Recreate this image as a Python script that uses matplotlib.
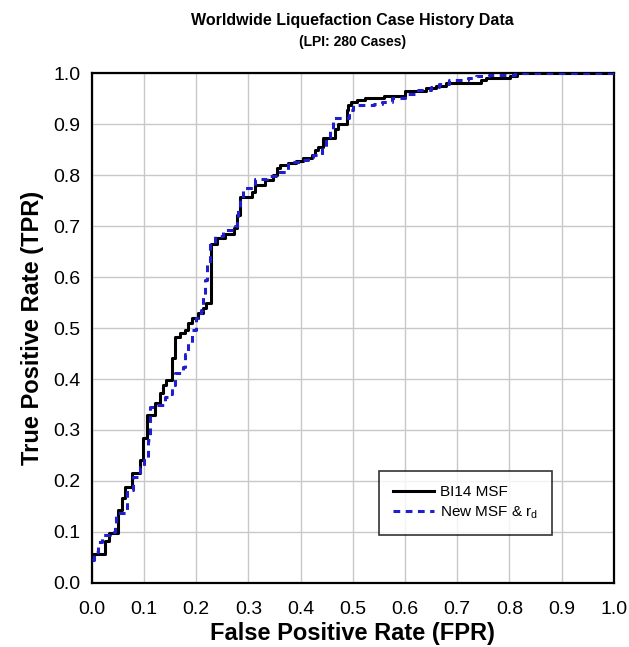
import matplotlib
matplotlib.use("Agg")
import matplotlib.pyplot as plt

plt.rcParams['font.family'] = ['Liberation Sans', 'DejaVu Sans']

# ROC step vertices: at each FPR the curve rises to the listed TPR
fpr_bi14 = [0.000, 0.003, 0.025, 0.033, 0.050, 0.057, 0.063, 0.076, 0.092, 0.098,
            0.106, 0.121, 0.130, 0.137, 0.143, 0.153, 0.159, 0.169, 0.178, 0.185,
            0.191, 0.204, 0.213, 0.218, 0.229, 0.239, 0.255, 0.272, 0.278, 0.284,
            0.306, 0.312, 0.331, 0.347, 0.354, 0.360, 0.376, 0.392, 0.405, 0.421,
            0.427, 0.434, 0.443, 0.466, 0.472, 0.488, 0.491, 0.497, 0.507, 0.523,
            0.560, 0.600, 0.641, 0.660, 0.679, 0.745, 0.755, 0.801, 0.815, 1.000]
tpr_bi14 = [0.045, 0.056, 0.083, 0.098, 0.143, 0.166, 0.189, 0.216, 0.241, 0.284,
            0.329, 0.352, 0.372, 0.388, 0.398, 0.441, 0.483, 0.490, 0.496, 0.509,
            0.519, 0.529, 0.539, 0.550, 0.665, 0.676, 0.684, 0.696, 0.722, 0.757,
            0.767, 0.780, 0.790, 0.800, 0.813, 0.820, 0.824, 0.828, 0.833, 0.839,
            0.849, 0.855, 0.872, 0.891, 0.901, 0.927, 0.937, 0.944, 0.948, 0.951,
            0.955, 0.964, 0.970, 0.975, 0.981, 0.987, 0.990, 0.995, 1.000, 1.000]

fpr_new = [0.000, 0.005, 0.012, 0.020, 0.035, 0.044, 0.046, 0.066, 0.068, 0.079,
           0.092, 0.100, 0.108, 0.112, 0.125, 0.140, 0.150, 0.153, 0.159, 0.175,
           0.178, 0.185, 0.191, 0.200, 0.210, 0.212, 0.216, 0.221, 0.226, 0.236,
           0.252, 0.274, 0.278, 0.280, 0.284, 0.290, 0.312, 0.335, 0.355, 0.376,
           0.398, 0.415, 0.424, 0.440, 0.448, 0.456, 0.462, 0.492, 0.500, 0.540,
           0.555, 0.575, 0.600, 0.625, 0.650, 0.665, 0.685, 0.720, 0.735, 0.760,
           0.810, 1.000]
tpr_new = [0.045, 0.060, 0.080, 0.095, 0.100, 0.110, 0.137, 0.140, 0.182, 0.208,
           0.228, 0.245, 0.280, 0.346, 0.350, 0.365, 0.370, 0.388, 0.411, 0.424,
           0.450, 0.470, 0.496, 0.519, 0.535, 0.565, 0.594, 0.627, 0.666, 0.680,
           0.692, 0.700, 0.712, 0.731, 0.751, 0.774, 0.793, 0.798, 0.806, 0.826,
           0.829, 0.835, 0.839, 0.855, 0.875, 0.891, 0.911, 0.927, 0.937, 0.940,
           0.944, 0.952, 0.960, 0.966, 0.972, 0.979, 0.987, 0.990, 0.994, 0.996,
           1.000, 1.000]

ticks = [round(0.1 * i, 1) for i in range(11)]

fig = plt.figure(figsize=(6.29, 6.47), dpi=100)
ax = fig.add_axes([0.146, 0.099, 0.830, 0.788])

ax.plot(fpr_bi14, tpr_bi14, drawstyle='steps-post', color='black', lw=2.2,
        label='BI14 MSF', zorder=3)
ax.plot(fpr_new, tpr_new, drawstyle='steps-post', color='#1f1fcf', lw=2.2,
        dashes=(2.2, 1.8), label='New MSF & r$_\\mathregular{d}$', zorder=4)

ax.set_xlim(0, 1)
ax.set_ylim(0, 1)
ax.set_xticks(ticks)
ax.set_yticks(ticks)
ax.set_xticklabels([f'{t:.1f}' for t in ticks])
ax.set_yticklabels([f'{t:.1f}' for t in ticks])
ax.tick_params(length=0, labelsize=14)
ax.tick_params(axis='x', pad=13)
ax.tick_params(axis='y', pad=8)
ax.grid(color='#c8c8c8', lw=1)
ax.set_axisbelow(True)
for s in ax.spines.values():
    s.set_linewidth(1.6)

ax.set_xlabel('False Positive Rate (FPR)', fontsize=17, fontweight='bold', labelpad=3)
ax.set_ylabel('True Positive Rate (TPR)', fontsize=17, fontweight='bold', labelpad=7)

fig.text(0.561, 0.968, 'Worldwide Liquefaction Case History Data',
         ha='center', va='center', fontsize=11.5, fontweight='bold')
fig.text(0.561, 0.935, '(LPI: 280 Cases)', ha='center', va='center',
         fontsize=10, fontweight='bold')

leg = ax.legend(loc='lower right', bbox_to_anchor=(0.882, 0.094), fontsize=11,
                frameon=True, fancybox=False, edgecolor='black',
                handlelength=2.7, handletextpad=0.4, borderpad=0.9,
                borderaxespad=0, labelspacing=0.35)
leg.get_frame().set_linewidth(1.2)

fig.savefig('out.png', dpi=100)
